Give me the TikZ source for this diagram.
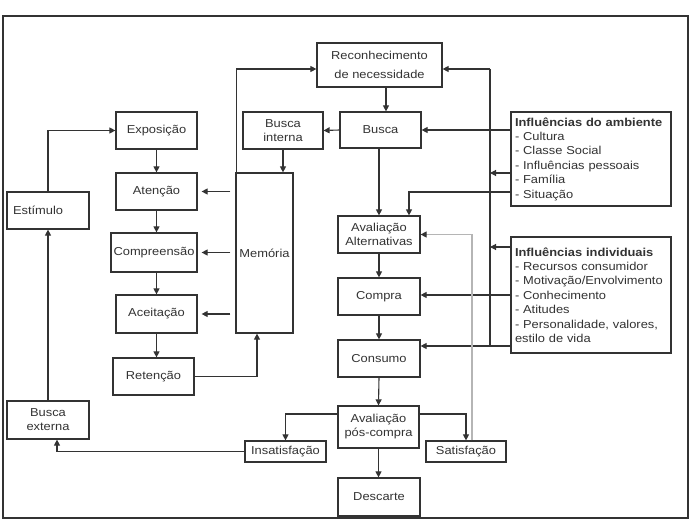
\documentclass[tikz,border=0pt]{standalone}
\usepackage{fontspec}
\setmainfont{Liberation Sans}[FakeStretch=1.12]
\usetikzlibrary{arrows.meta}
\definecolor{ink}{HTML}{333333}
\definecolor{lgray}{HTML}{B5B5B5}
\begin{document}
\begin{tikzpicture}[x=1pt,y=-1pt,
  box/.style={draw=ink, line width=1.2pt, fill=white, inner sep=0pt, align=center,
    font=\fontsize{11.5}{14}\selectfont, text=ink},
  infl/.style={box, align=left, font=\fontsize{11.5}{14.4}\selectfont},
  arr/.style={draw=ink, line width=1.1pt, -{Triangle[length=6pt,width=6pt]}},
  ln/.style={draw=ink, line width=1.1pt}]
\useasboundingbox (0,0) rectangle (696,524);
\draw[ink, line width=1.2pt] (3,16) rectangle (688,518);

% nodes
\node[box, minimum width=125pt, minimum height=44pt] (recon) at (379.5,65) {Reconhecimento\\[5pt]de necessidade};
\node[box, minimum width=81pt, minimum height=36pt] (busca) at (380.5,130) {Busca};
\node[box, minimum width=80pt, minimum height=37pt] (bint) at (283,130.5) {Busca\\interna};
\node[box, minimum width=81pt, minimum height=37pt] (expo) at (156.5,130.5) {Exposição};
\node[box, minimum width=81pt, minimum height=37pt] (aten) at (156.5,191.5) {Atenção};
\node[box, minimum width=82pt, minimum height=37pt, text width=70pt, align=left] (estim) at (48,210.5) {Estímulo};
\node[box, minimum width=86pt, minimum height=39pt] (compr) at (154,252.5) {Compreensão};
\node[box, minimum width=57pt, minimum height=160pt] (mem) at (264.5,253) {Memória};
\node[box, minimum width=81pt, minimum height=38pt] (acei) at (156.5,314) {Aceitação};
\node[box, minimum width=81pt, minimum height=37pt] (reten) at (153.5,376.5) {Retenção};
\node[box, minimum width=82pt, minimum height=38pt] (bext) at (48,420) {Busca\\externa};
\node[box, minimum width=81pt, minimum height=21pt] (insat) at (285.5,451.5) {Insatisfação};
\node[box, minimum width=82pt, minimum height=37pt] (aval) at (379,234.5) {Avaliação\\Alternativas};
\node[box, minimum width=82pt, minimum height=37pt] (compra) at (379,296.5) {Compra};
\node[box, minimum width=82pt, minimum height=37pt] (consumo) at (379,358.5) {Consumo};
\node[box, minimum width=81pt, minimum height=42pt] (pos) at (378.5,427) {Avaliação\\pós-compra};
\node[box, minimum width=80pt, minimum height=21pt] (satis) at (466,451.5) {Satisfação};
\node[box, minimum width=82pt, minimum height=38pt] (desc) at (379,497) {Descarte};
\node[infl, minimum width=160pt, minimum height=94pt, text width=152pt] (amb) at (591,159)
  {\textbf{Influências do ambiente}\\- Cultura\\- Classe Social\\- Influências pessoais\\- Família\\- Situação};
\node[infl, minimum width=160pt, minimum height=116pt, text width=152pt] (ind) at (591,295)
  {\textbf{Influências individuais}\\- Recursos consumidor\\- Motivação/Envolvimento\\- Conhecimento\\- Atitudes\\- Personalidade, valores,\\estilo de vida};

% left chain
\draw[arr] (estim.north) |- (expo.west);
\draw[arr] (expo.south) -- (aten.north);
\draw[arr] (aten.south) -- (aten.south |- compr.north);
\draw[arr] (aten.south |- compr.south) -- (acei.north);
\draw[arr] (acei.south) -- (acei.south |- reten.north);
\draw[arr, shorten <=5pt, shorten >=4pt] (mem.west |- aten.east) -- (aten.east);
\draw[arr, shorten <=5pt, shorten >=4pt] (mem.west |- compr.east) -- (compr.east);
\draw[arr, shorten <=5pt, shorten >=4pt] (mem.west |- acei.east) -- (acei.east);
\draw[arr] (reten.east) -| ([xshift=-7.5pt]mem.south);
\draw[arr] ([xshift=1pt]mem.north west) |- ([yshift=-4pt]recon.west);
\draw[arr] (bint.south) -- (bint.south |- mem.north);
\draw[arr] (busca.west) -- (bint.east);
\draw[arr] ([xshift=6.5pt]recon.south) -- ([xshift=6.5pt]recon.south |- busca.north);
\draw[arr] (busca.south -| aval.north) -- (aval.north);

% influences
\coordinate (bt) at (490,69);
\coordinate (bb) at (490,346);
\draw[ln] (bt) -- (bb);
\draw[arr] (bt) -- (bt -| recon.east);
\draw[arr] (amb.west |- busca.east) -- (busca.east);
\draw[arr] ([yshift=-33pt]amb.west) -| ([xshift=30pt]aval.north);
\draw[arr] ([yshift=-14pt]amb.west) -- ([yshift=-14pt]amb.west -| bt);
\draw[arr] ([yshift=48pt]ind.west) -- ([yshift=48pt]ind.west -| bt);
\draw[arr] (ind.west) -- (ind.west -| compra.east);
\draw[arr] ([yshift=-51pt]ind.west) -- ([yshift=-51pt]ind.west -| consumo.east);

% middle chain
\draw[arr] (aval.south) -- (compra.north);
\draw[arr] (compra.south) -- (consumo.north);
\draw[arr] (consumo.south) -- (pos.north);
\draw[arr] (pos.south) -- (pos.south |- desc.north);

% post-purchase
\draw[lgray, line width=1.1pt, -{Triangle[length=6pt,width=6pt,color=ink]}] ([xshift=6pt]satis.north) |- (aval.east);
\draw[arr] ([yshift=13pt]pos.east) -| (satis.north);
\draw[arr] ([yshift=13pt]pos.west) -| (insat.north);
\draw[arr] (insat.west) -| ([xshift=9pt]bext.south);
\draw[arr] (bext.north) -- (estim.south);
\end{tikzpicture}
\end{document}
